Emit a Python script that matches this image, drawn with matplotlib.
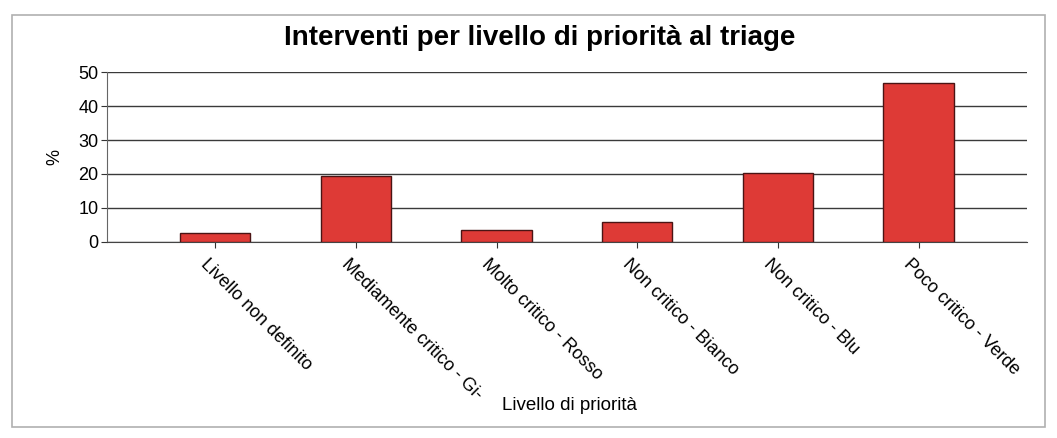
#Python libraries for math and graphics
import numpy as np
import matplotlib.pyplot as plt
from matplotlib.patches import Rectangle
from matplotlib.transforms import ScaledTranslation

plt.rcParams['font.family'] = ['Liberation Sans', 'DejaVu Sans']

#Input data
categorie = ['Livello non definito', 'Mediamente critico - Gi-', 'Molto critico - Rosso',
             'Non critico - Bianco', 'Non critico - Blu', 'Poco critico - Verde']
percentuali = [2.7, 19.4, 3.4, 5.9, 20.2, 46.7]
yticks = [0, 10, 20, 30, 40, 50]

fig = plt.figure(figsize=(10.57, 4.38), dpi=100)
ax = fig.add_axes([0.1012, 0.4475, 0.8704, 0.3881])

#outer frame
fig.patches.append(Rectangle((0.011, 0.025), 0.978, 0.94, transform=fig.transFigure,
                             fill=False, edgecolor='#b0b0b0', lw=1.2))

x = np.arange(len(categorie))
ax.bar(x, percentuali, width=0.5, color='#de3a36', edgecolor='#4a1414', lw=1, zorder=3)

ax.set_xlim(-0.77, len(categorie) - 1 + 0.77)
ax.set_ylim(0, 50)
ax.set_yticks(yticks)
ax.tick_params(axis='y', labelsize=13, length=4, color='#333333', pad=2)
ax.yaxis.grid(True, color='#3a3a3a', lw=1, zorder=0)
ax.set_xticks(x)
ax.set_xticklabels(categorie, rotation=-45, ha='left', va='top', rotation_mode='anchor',
                   fontsize=13)
ax.tick_params(axis='x', length=4, color='#333333', pad=6)
#shift rotated labels a little to the left
off = ScaledTranslation(-6/100, 0, fig.dpi_scale_trans)
for lab in ax.get_xticklabels():
    lab.set_transform(lab.get_transform() + off)
for s in ['top', 'right']:
    ax.spines[s].set_visible(False)
ax.spines['left'].set_color('#666666')
ax.spines['bottom'].set_color('#444444')

ax.set_ylabel('%', fontsize=13, labelpad=11)
fig.text(0.539, 0.075, 'Livello di priorità', ha='center', va='center', fontsize=13.5)
fig.text(0.511, 0.913, 'Interventi per livello di priorità al triage', ha='center',
         va='center', fontsize=20, fontweight='bold')

plt.savefig('out.png', dpi=100)
